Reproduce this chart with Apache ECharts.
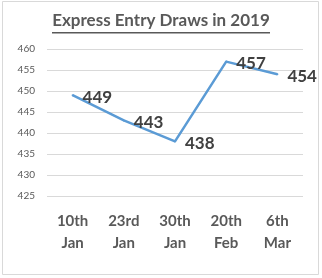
<!DOCTYPE html>
<html><head><meta charset="utf-8">
<script src="https://cdn.jsdelivr.net/npm/echarts@6/dist/echarts.min.js"></script>
<style>html,body{margin:0;padding:0;background:#fff}#c{width:322px;height:278px}</style>
</head><body><div id="c"></div>
<script>
var categories = ['10th\nJan', '23rd\nJan', '30th\nJan', '20th\nFeb', '6th\nMar'];
var scores = [449, 443, 438, 457, 454];
var titleText = 'Express Entry Draws in 2019';

var chart = echarts.init(document.getElementById('c'), null, {renderer: 'canvas'});
chart.setOption({
  animation: false,
  backgroundColor: '#fff',
  graphic: [
    {type: 'rect', shape: {x: 2.5, y: 1.5, width: 316, height: 273}, style: {fill: 'none', stroke: '#d9d9d9', lineWidth: 1}},
    {type: 'text', left: 'center', top: 12, style: {text: titleText, font: 'bold 17px Lato', fill: '#595959'}},
    {type: 'rect', shape: {x: 52, y: 32, width: 218, height: 1.5}, style: {fill: '#595959'}}
  ],
  grid: {left: 47, right: 19, top: 49, bottom: 82},
  xAxis: {
    type: 'category', data: categories, boundaryGap: true,
    axisLine: {show: false}, axisTick: {show: false},
    axisLabel: {color: '#595959', fontFamily: 'Lato', fontWeight: 'bold', fontSize: 15, lineHeight: 22, margin: 14}
  },
  yAxis: {
    type: 'value', min: 425, max: 460, interval: 5,
    axisLine: {show: false}, axisTick: {show: false},
    axisLabel: {color: '#595959', fontFamily: 'Lato', fontSize: 10, margin: 12},
    splitLine: {lineStyle: {color: '#d9d9d9', width: 1}}
  },
  series: [{
    type: 'line', data: scores, symbol: 'circle', symbolSize: 2, showSymbol: true,
    itemStyle: {color: '#5B9BD5'},
    lineStyle: {color: '#5B9BD5', width: 2.5},
    label: {show: true, position: 'right', distance: 9, offset: [0, 2], color: '#404040', fontFamily: 'Lato', fontWeight: 'bold', fontSize: 17}
  }]
});
</script></body></html>
